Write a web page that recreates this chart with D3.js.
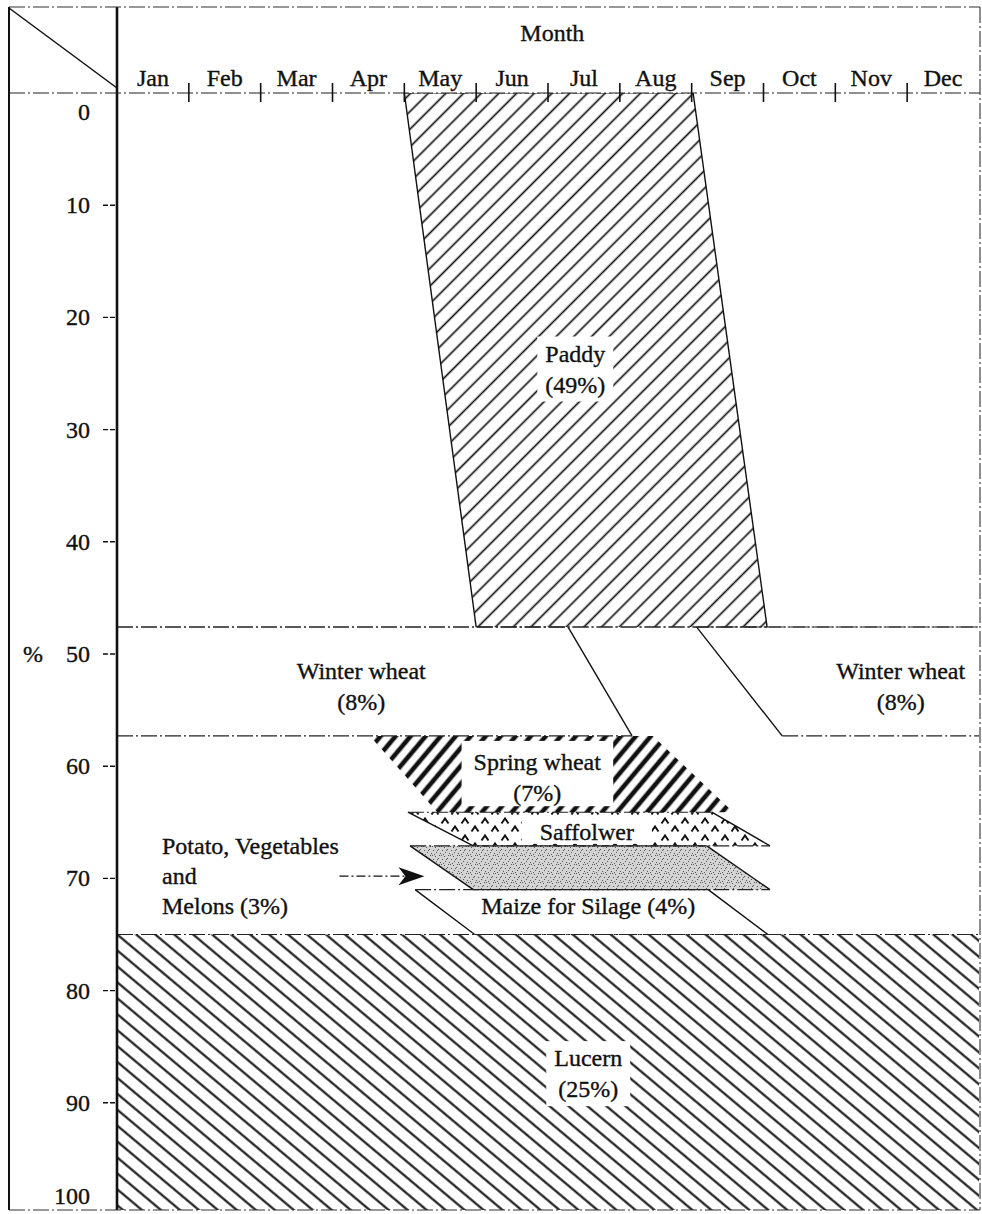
<!DOCTYPE html>
<html>
<head>
<meta charset="utf-8">
<title>Cropping calendar</title>
<script src="https://d3js.org/d3.v7.min.js"></script>
<style>
  body { margin: 0; background: #fff; }
  text { font-family: "Liberation Serif", "DejaVu Serif", serif; font-size: 24px; fill: #111; stroke: #111; stroke-width: 0.35px; }
</style>
</head>
<body>
<svg width="982" height="1214"></svg>
<script>
// ---- data ----
const months = ["Jan", "Feb", "Mar", "Apr", "May", "Jun", "Jul", "Aug", "Sep", "Oct", "Nov", "Dec"];
const yTicks = [0, 10, 20, 30, 40, 50, 60, 70, 80, 90, 100];

const cropNames = ["Paddy", "Winter wheat", "Winter wheat", "Spring wheat", "Saffolwer",
                   "Potato, Vegetables and Melons", "Maize for Silage", "Lucern"];
const cropShares = [49, 8, 8, 7, null, 3, 4, 25];
// band of the area axis (%) each crop occupies
const bandTop    = [0,    47.6, 47.6, 57.3, 64.1, 67.1, 71.0, 75.0];
const bandBottom = [47.6, 57.3, 57.3, 64.1, 67.1, 71.0, 75.0, 100];
// start / end (months from 1 Jan) at top and bottom of each band
const startTop    = [4.0,  0,    8.07, 3.52, 4.05, 4.08, 4.15, 0];
const startBottom = [5.0,  0,    9.26, 4.46, 4.96, 4.96, 4.98, 0];
const endTop      = [8.02, 6.28, 12,   7.46, 8.28, 8.21, 8.23, 12];
const endBottom   = [9.05, 7.17, 12,   8.58, 9.09, 9.09, 9.06, 12];
const fills = ["fine", "none", "none", "bold", "caret", "stipple", "none", "back"];

// ---- layout ----
const svg = d3.select("svg");
const plotLeft = 117, plotRight = 979, plotTop = 93;
const frameTop = 7, frameBottom = 1210, frameLeft = 9;

const x = d3.scaleLinear().domain([0, 12]).range([plotLeft, plotRight]);
const y = d3.scaleLinear().domain([0, 100]).range([plotTop, 1215]);

const dashDot = "16,3,2,3";
const defs = svg.append("defs");

function hatch(id, spacing, angle, width) {
  const p = defs.append("pattern").attr("id", id)
    .attr("patternUnits", "userSpaceOnUse")
    .attr("width", spacing).attr("height", spacing)
    .attr("patternTransform", `rotate(${angle})`);
  p.append("line").attr("x1", spacing / 2).attr("x2", spacing / 2)
    .attr("y1", -1).attr("y2", spacing + 1)
    .attr("stroke", "#111").attr("stroke-width", width);
}
hatch("fine", 12.5, 45, 1.7);
hatch("back", 12.2, -50, 2.1);
hatch("bold", 11.5, 40, 4.6);

const caret = defs.append("pattern").attr("id", "caret")
  .attr("patternUnits", "userSpaceOnUse").attr("width", 20).attr("height", 17);
[[5, 5], [15, 13]].forEach(([cx, cy]) => {
  caret.append("path").attr("d", `M${cx - 3.5},${cy + 2.5}L${cx},${cy - 2.5}L${cx + 3.5},${cy + 2.5}`)
    .attr("fill", "none").attr("stroke", "#111").attr("stroke-width", 2);
});

const stip = defs.append("pattern").attr("id", "stipple")
  .attr("patternUnits", "userSpaceOnUse").attr("width", 9).attr("height", 9);
stip.append("rect").attr("width", 9).attr("height", 9).attr("fill", "#d4d4d4");
[[0, 0], [3, 1], [6, 3], [1, 4], [4, 6], [8, 7], [2, 8], [7, 0], [5, 4]].forEach(([a, b]) => {
  stip.append("rect").attr("x", a).attr("y", b).attr("width", 1).attr("height", 1).attr("fill", "#555");
});

defs.append("clipPath").attr("id", "plot")
  .append("rect").attr("x", plotLeft).attr("y", plotTop)
  .attr("width", plotRight - plotLeft).attr("height", frameBottom - plotTop);

const plot = svg.append("g").attr("clip-path", "url(#plot)");

const corners = i => [
  [x(startTop[i]), y(bandTop[i])], [x(endTop[i]), y(bandTop[i])],
  [x(endBottom[i]), y(bandBottom[i])], [x(startBottom[i]), y(bandBottom[i])]
];

// crop areas
cropNames.forEach((name, i) => {
  if (fills[i] === "none") return;
  plot.append("path")
    .attr("d", d3.line()(corners(i)) + "Z")
    .attr("fill", `url(#${fills[i]})`);
});

// slanted start / end edges
cropNames.forEach((name, i) => {
  if (fills[i] === "bold") return;
  const c = corners(i);
  if (startTop[i] > 0)
    plot.append("line").attr("x1", c[0][0]).attr("y1", c[0][1]).attr("x2", c[3][0]).attr("y2", c[3][1])
      .attr("stroke", "#111").attr("stroke-width", 1.4);
  if (endTop[i] < 12)
    plot.append("line").attr("x1", c[1][0]).attr("y1", c[1][1]).attr("x2", c[2][0]).attr("y2", c[2][1])
      .attr("stroke", "#111").attr("stroke-width", 1.4);
});

// dash-dot band borders
cropNames.forEach((name, i) => {
  if (fills[i] === "bold") return;
  const c = corners(i);
  [[c[0], c[1]], [c[3], c[2]]].forEach(([a, b]) => {
    plot.append("line").attr("x1", a[0]).attr("y1", a[1]).attr("x2", b[0]).attr("y2", b[1])
      .attr("stroke", "#222").attr("stroke-width", 1.1).attr("stroke-dasharray", dashDot);
  });
});
[bandBottom[0], bandTop[7]].forEach(v => {
  plot.append("line").attr("x1", plotLeft).attr("x2", plotRight).attr("y1", y(v)).attr("y2", y(v))
    .attr("stroke", "#222").attr("stroke-width", 1.1).attr("stroke-dasharray", dashDot);
});

// labels (month, %) anchor of each label
const labelAt = [[6.38, 24.6], [3.40, 52.9], [10.91, 52.9], [5.85, 61.0], [6.54, 65.85], null, [6.56, 72.5], [6.56, 87.4]];
const boxed = [true, false, false, true, true, false, false, true];
const lineGap = 31;

cropNames.forEach((name, i) => {
  if (!labelAt[i]) return;
  let lines;
  if (cropShares[i] === null) lines = [name];
  else if (name.startsWith("Maize")) lines = [`${name} (${cropShares[i]}%)`];
  else lines = [name, `(${cropShares[i]}%)`];
  const cx = x(labelAt[i][0]), cy = y(labelAt[i][1]);
  const g = svg.append("g");
  const t = g.append("text").attr("text-anchor", "middle");
  lines.forEach((s, k) => {
    t.append("tspan").attr("x", cx)
      .attr("y", cy + (k - (lines.length - 1) / 2) * lineGap)
      .attr("dominant-baseline", "central").text(s);
  });
  if (boxed[i]) {
    const bb = t.node().getBBox();
    let y0 = bb.y - 4, y1 = bb.y + bb.height + 4;
    if (fills[i] === "bold") { y0 = y(bandTop[i]) + 5; y1 = y(bandBottom[i]) - 6; }
    if (fills[i] === "caret") { y0 = y(bandTop[i]) + 3; y1 = y(bandBottom[i]) - 2; }
    const padX = fills[i] === "bold" ? 12 : (fills[i] === "caret" ? 18 : 8);
    g.insert("rect", "text").attr("x", bb.x - padX).attr("y", y0)
      .attr("width", bb.width + 2 * padX).attr("height", y1 - y0).attr("fill", "#fff");
  }
});

// potato callout with arrow
const potato = 5;
const calloutLines = ["Potato, Vegetables", "and", `Melons  (${cropShares[potato]}%)`];
const ct = svg.append("text").attr("text-anchor", "start");
calloutLines.forEach((s, k) => {
  ct.append("tspan").attr("x", 162).attr("y", y(69.8) + (k - 1) * 30)
    .attr("dominant-baseline", "central").text(s);
});
const tipX = x(4.28), tipY = y(69.8);
svg.append("line").attr("x1", tipX - 85).attr("x2", tipX - 16).attr("y1", tipY).attr("y2", tipY)
  .attr("stroke", "#111").attr("stroke-width", 1.2).attr("stroke-dasharray", "9,3,2,3");
svg.append("path")
  .attr("d", `M${tipX},${tipY}L${tipX - 26},${tipY - 9}L${tipX - 19},${tipY}L${tipX - 26},${tipY + 9}Z`)
  .attr("fill", "#111");

// ---- frame ----
svg.append("line").attr("x1", frameLeft).attr("x2", frameLeft).attr("y1", frameTop).attr("y2", frameBottom)
  .attr("stroke", "#111").attr("stroke-width", 2);
svg.append("line").attr("x1", plotLeft).attr("x2", plotLeft).attr("y1", frameTop).attr("y2", frameBottom)
  .attr("stroke", "#111").attr("stroke-width", 2.6);
svg.append("line").attr("x1", frameLeft).attr("x2", plotRight + 1).attr("y1", frameTop).attr("y2", frameTop)
  .attr("stroke", "#333").attr("stroke-width", 1.1).attr("stroke-dasharray", dashDot);
svg.append("line").attr("x1", plotRight + 1).attr("x2", plotRight + 1).attr("y1", frameTop).attr("y2", frameBottom)
  .attr("stroke", "#333").attr("stroke-width", 1.1).attr("stroke-dasharray", dashDot);
svg.append("line").attr("x1", frameLeft).attr("x2", plotRight + 1).attr("y1", frameBottom).attr("y2", frameBottom)
  .attr("stroke", "#333").attr("stroke-width", 1.1).attr("stroke-dasharray", dashDot);
svg.append("line").attr("x1", frameLeft).attr("x2", plotRight + 1).attr("y1", plotTop).attr("y2", plotTop)
  .attr("stroke", "#222").attr("stroke-width", 1.1).attr("stroke-dasharray", dashDot);
svg.append("line").attr("x1", frameLeft).attr("y1", frameTop + 1).attr("x2", plotLeft).attr("y2", plotTop - 5)
  .attr("stroke", "#111").attr("stroke-width", 1.5);

// ---- month axis ----
svg.append("text").attr("x", x(6.06)).attr("y", 33).attr("text-anchor", "middle")
  .attr("dominant-baseline", "central").text("Month");
svg.selectAll(".mlab").data(months).join("text")
  .attr("x", (d, i) => x(i + 0.5)).attr("y", 78)
  .attr("text-anchor", "middle").attr("dominant-baseline", "central").text(d => d);
svg.selectAll(".mtick").data(d3.range(1, 12)).join("line")
  .attr("x1", d => x(d)).attr("x2", d => x(d)).attr("y1", plotTop - 10).attr("y2", plotTop + 9)
  .attr("stroke", "#111").attr("stroke-width", 1.6);

// ---- % axis ----
svg.selectAll(".ytick").data(yTicks.filter(v => v > 0 && v < 100)).join("line")
  .attr("x1", plotLeft - 14).attr("x2", plotLeft).attr("y1", d => y(d)).attr("y2", d => y(d))
  .attr("stroke", "#111").attr("stroke-width", 1.4).attr("stroke-dasharray", "5,2");
svg.selectAll(".ylab").data(yTicks).join("text")
  .attr("x", 90).attr("text-anchor", "end").attr("dominant-baseline", "central")
  .attr("y", d => d === 0 ? y(d) + 19 : d === 100 ? y(d) - 19 : y(d))
  .text(d => d);
svg.append("text").attr("x", 33).attr("y", y(50)).attr("text-anchor", "middle")
  .attr("dominant-baseline", "central").text("%");
</script>
</body>
</html>
